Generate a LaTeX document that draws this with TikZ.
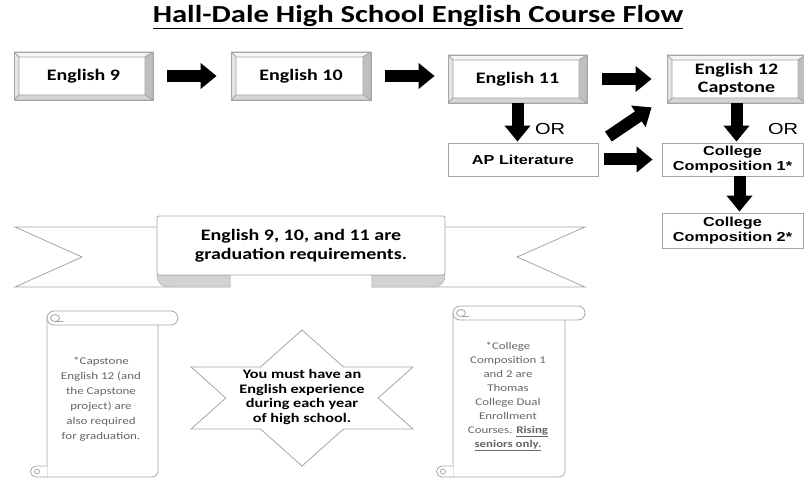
\documentclass[tikz,border=0pt]{standalone}
\usepackage{fontspec}
\setmainfont{Carlito}[FakeStretch=1.25]
\newfontfamily\arialfont{Liberation Sans}[FakeStretch=1.25]
\usetikzlibrary{arrows.meta}

\tikzset{
  course/.style={draw=gray!70, fill=white, line width=0.8pt, inner sep=0pt, minimum height=48pt, align=center,
    font=\bfseries\fontsize{16}{18}\selectfont,
    path picture={
      \coordinate (pnw) at (path picture bounding box.north west);
      \coordinate (pne) at (path picture bounding box.north east);
      \coordinate (pse) at (path picture bounding box.south east);
      \coordinate (psw) at (path picture bounding box.south west);
      \coordinate (inw) at ([shift={(5,-5)}]pnw);
      \coordinate (ine) at ([shift={(-8,-5)}]pne);
      \coordinate (ise) at ([shift={(-8,5)}]pse);
      \coordinate (isw) at ([shift={(5,5)}]psw);
      \filldraw[draw=gray!70, fill=gray!8] (pnw) -- (pne) -- (ine) -- (inw) -- cycle;
      \filldraw[draw=gray!70, fill=gray!20] (pnw) -- (inw) -- (isw) -- (psw) -- cycle;
      \filldraw[draw=gray!70, fill=gray!50] (pne) -- (pse) -- (ise) -- (ine) -- cycle;
      \filldraw[draw=gray!70, fill=gray!32] (psw) -- (isw) -- (ise) -- (pse) -- cycle;
    }},
  option/.style={draw=gray!70, fill=white, line width=0.8pt, inner sep=0pt, minimum height=34pt, align=center,
    font=\arialfont\bfseries\fontsize{13}{15}\selectfont},
  flow/.style={line width=12pt, -{Triangle[length=16pt,width=25pt]}},
  outline/.style={draw=gray!70, fill=white, line width=0.8pt},
  note/.style={align=center, text=black!60, font=\fontsize{10.4}{15}\selectfont},
}

\begin{document}
\begin{tikzpicture}[x=1pt, y=1pt]
  \useasboundingbox (0,0) rectangle (804,480);

  \node[font=\bfseries\fontsize{24.5}{26}\selectfont] (title) at (418,463) {\underline{Hall-Dale High School English Course Flow}};

  % course boxes
  \node[course, minimum width=139pt] (eng9) at (83.5,404) {English 9};
  \node[course, minimum width=140pt] (eng10) at (301,404) {English 10};
  \node[course, minimum width=139pt] (eng11) at (517.5,401) {English 11};
  \node[course, minimum width=139pt] (eng12) at (736.5,401) {English 12\\Capstone};
  \node[option, minimum width=150pt, minimum height=33pt] (aplit) at (523,320.5) {AP Literature};
  \node[option, minimum width=141pt, minimum height=33pt] (comp1) at (732.5,320.5) {College\\Composition 1*};
  \node[option, minimum width=141pt, minimum height=35pt] (comp2) at (732.5,249.5) {College\\Composition 2*};

  \node[font=\arialfont\fontsize{16}{16}\selectfont] (or1) at (550,351) {OR};
  \node[font=\arialfont\fontsize{16}{16}\selectfont] (or2) at (783,351) {OR};

  % arrows
  \draw[flow, shorten <=14pt, shorten >=14pt] (eng9) -- (eng10);
  \draw[flow, shorten <=14pt, shorten >=13pt] (eng10.east) -- (eng10.east -| eng11.west);
  \draw[flow, shorten <=15pt, shorten >=15pt] (eng11) -- (eng12);
  \draw[flow, shorten >=1pt] (eng11.south) -- (eng11.south |- aplit.north);
  \draw[flow, shorten >=1pt] (eng12.south) -- (eng12.south |- comp1.north);
  \draw[flow, shorten >=1pt] ([xshift=7pt]comp1.south) -- ([xshift=7pt]comp1.south |- comp2.north);
  \draw[flow, shorten <=6pt, shorten >=9pt] (aplit) -- (comp1);
  \draw[flow] ([shift={(10,6)}]aplit.north east) -- ([shift={(-15,-4)}]eng12.south west);

  % ribbon
  \filldraw[outline] (15,253) -- (230,253) -- (230,193) -- (15,193) -- (82,223) -- cycle;
  \filldraw[outline] (585,253) -- (372,253) -- (372,193) -- (585,193) -- (517,223) -- cycle;
  \filldraw[draw=gray!70, fill=gray!35] (157,205) .. controls (157,196) and (162,193) .. (172,193) -- (230,193) -- (230,205) -- cycle;
  \filldraw[draw=gray!70, fill=gray!35] (445,205) .. controls (445,196) and (440,193) .. (430,193) -- (372,193) -- (372,205) -- cycle;
  \node[outline, rounded corners=2pt, minimum width=288pt, minimum height=59pt, align=center,
    font=\bfseries\fontsize{16}{19}\selectfont] (req) at (301,234.5) {English 9, 10, and 11 are\\graduation requirements.};

  % star
  \filldraw[outline, shift={(302,82)}] (0,68) -- (41.5,31) -- (111,31) -- (76.2,0) -- (111,-31) -- (41.5,-31)
    -- (0,-68) -- (-41.5,-31) -- (-111,-31) -- (-76.2,0) -- (-111,31) -- (-41.5,31) -- cycle;
  \node[align=center, font=\bfseries\fontsize{13}{14.5}\selectfont] (yearly) at (302,83)
    {You must have an\\English experience\\during each year\\of high school.};

  % scrolls
  \foreach \x/\w/\t in {47/111/162, 453/112/167}{
    \filldraw[outline] (\x,\t) -- (\x,3) -- (\x+\w-6,3) arc[start angle=-90, end angle=0, radius=6] -- (\x+\w,\t) -- cycle;
    \filldraw[outline, rounded corners=7pt] (\x,\t-7) rectangle (\x+\w+20,\t+7);
    \draw[outline] (\x+8,\t) circle[x radius=4.5, y radius=3.5];
    \draw[outline] (\x+8,\t-3.5) -- (\x+16,\t-3.5);
    \filldraw[outline] (\x,14) -- (\x-11,14) arc[start angle=90, end angle=270, radius=5.5] -- (\x,3);
    \draw[outline] (\x-10,8.5) circle (2.5);
  }
  \node[note] (capnote) at (101,80.5) {*Capstone\\English 12 (and\\the Capstone\\project) are\\also required\\for graduation.};
  \node[note, font=\fontsize{10.3}{14}\selectfont] (compnote) at (508,83.5)
    {*College\\Composition 1\\and 2 are\\Thomas\\College Dual\\Enrollment\\Courses. \textbf{\underline{Rising}}\\\textbf{\underline{seniors only.}}};
\end{tikzpicture}
\end{document}
